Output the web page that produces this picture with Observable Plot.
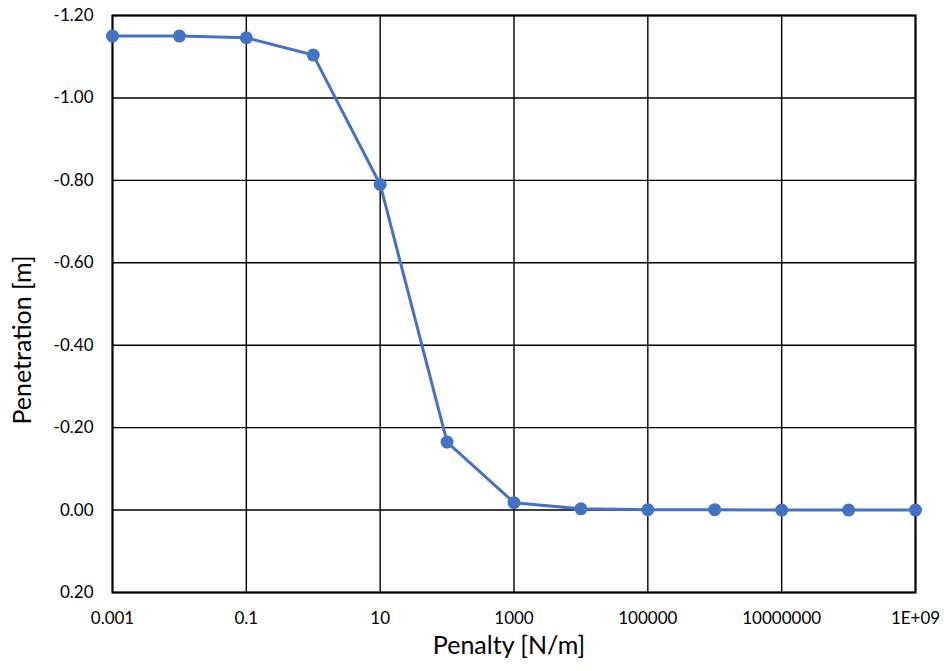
<!DOCTYPE html>
<html>
<head>
<meta charset="utf-8">
<script src="https://cdn.jsdelivr.net/npm/d3@7"></script>
<script src="https://cdn.jsdelivr.net/npm/@observablehq/plot@0.6"></script>
<style>
  html, body { margin: 0; padding: 0; background: #fff; }
  #chart svg { display: block; }
</style>
</head>
<body>
<div id="chart"></div>
<script>
// Penalty stiffness (N/m) and resulting penetration (m)
const penalty = [1e-3, 1e-2, 1e-1, 1, 10, 100, 1e3, 1e4, 1e5, 1e6, 1e7, 1e8, 1e9];
const penetration = [-1.150, -1.150, -1.146, -1.104, -0.790, -0.165, -0.018, -0.003, -0.001, -0.001, 0.000, 0.000, 0.000];

// Axis ticks and their labels
const xTicks = [1e-3, 1e-1, 10, 1e3, 1e5, 1e7, 1e9];
const xTickLabels = ["0.001", "0.1", "10", "1000", "100000", "10000000", "1E+09"];
const yTicks = [-1.2, -1.0, -0.8, -0.6, -0.4, -0.2, 0.0, 0.2];

// Axis titles
const xTitle = "Penalty [N/m]";
const yTitle = "Penetration [m]";

const data = penalty.map((p, i) => ({penalty: p, penetration: penetration[i]}));
const blue = "#4472C4";

const chart = Plot.plot({
  width: 944,
  height: 671,
  marginLeft: 112,
  marginRight: 29,
  marginTop: 15,
  marginBottom: 79,
  style: {fontFamily: "Lato, 'Open Sans', sans-serif", fontSize: "17px", color: "#000", background: "#fff"},
  x: {type: "log", domain: [1e-3, 1e9]},
  y: {domain: [-1.2, 0.2], reverse: true},
  marks: [
    Plot.ruleX(xTicks, {stroke: "#000", strokeWidth: 1.4}),
    Plot.ruleY(yTicks, {stroke: "#000", strokeWidth: 1.4}),
    Plot.frame({stroke: "#000", strokeWidth: 2}),
    Plot.axisX({
      ticks: xTicks,
      tickSize: 0,
      tickPadding: 19,
      tickFormat: d => xTickLabels[xTicks.indexOf(d)],
      label: null,
      fontSize: 17
    }),
    Plot.axisY({
      ticks: yTicks,
      tickSize: 0,
      tickPadding: 19,
      tickFormat: d => d.toFixed(2),
      label: null,
      fontSize: 17
    }),
    Plot.text([xTitle], {frameAnchor: "bottom", textAnchor: "middle", dy: 61, dx: -5, fontSize: 25, fill: "#000"}),
    Plot.text([yTitle], {frameAnchor: "left", textAnchor: "middle", dx: -90, dy: 36, rotate: -90, fontSize: 25, fill: "#000"}),
    Plot.line(data, {x: "penalty", y: "penetration", stroke: blue, strokeWidth: 3}),
    Plot.dot(data, {x: "penalty", y: "penetration", fill: blue, r: 6.5})
  ]
});

document.getElementById("chart").appendChild(chart);
</script>
</body>
</html>
